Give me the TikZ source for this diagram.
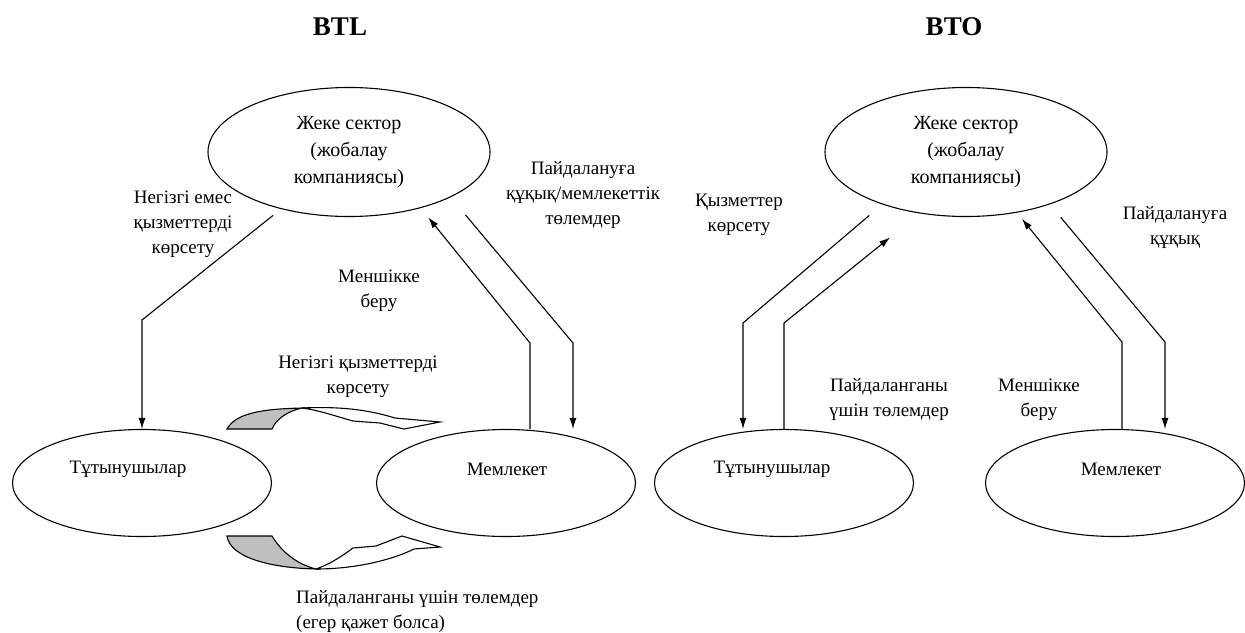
\documentclass[tikz,border=0pt]{standalone}
\usepackage{fontspec}
\setmainfont{Liberation Serif}
\usetikzlibrary{shapes.geometric,arrows.meta}

\begin{document}
\begin{tikzpicture}[x=1pt,y=-1pt,
  ent/.style={draw,ellipse,line width=1.1pt,inner sep=0pt},
  bigent/.style={ent,minimum width=282pt,minimum height=129pt,align=center,font=\fontsize{20}{27}\selectfont},
  smallent/.style={ent,minimum width=259pt,minimum height=107pt},
  lbl/.style={align=center,inner sep=0pt,font=\fontsize{19}{25}\selectfont},
  ttl/.style={inner sep=0pt,font=\fontsize{27}{30}\selectfont\bfseries},
  wire/.style={line width=1.1pt},
  conn/.style={wire,-{Latex[length=11pt,width=7pt]}}]
  \useasboundingbox (0,0) rectangle (1245,632);
  % titles
  \node[ttl] (TitleL) at (340,27) {BTL};
  \node[ttl] (TitleR) at (954,27) {BTO};
  % BTL side
  \node[bigent] (PrivL) at (349,152) {Жеке сектор\\(жобалау\\компаниясы)};
  \node[smallent] (ConsL) at (142,483) {};
  \node[smallent] (StateL) at (506,483) {};
  \node[lbl] (ConsLtxt) at ([xshift=-14pt,yshift=14pt]ConsL.center) {Тұтынушылар};
  \node[lbl] (StateLtxt) at ([xshift=1pt,yshift=14pt]StateL.center) {Мемлекет};
  \coordinate (BendA) at (142,320);
  \coordinate (BendB) at (530,343);
  \coordinate (BendC) at (573,343);
  \draw[conn,shorten <=10pt] (PrivL.-140) -- (BendA) -- (ConsL.north);
  \draw[conn,shorten >=12pt] (BendB |- StateL.north) -- (BendB) -- (PrivL.-38);
  \draw[conn,shorten <=23pt] (PrivL.-24) -- (BendC) -- (BendC |- StateL.north);
  \node[lbl] (NonCore) at (183,224) {Негізгі емес\\қызметтерді\\көрсету};
  \node[lbl] (RightL) at (583,195) {Пайдалануға\\құқық/мемлекеттік\\төлемдер};
  \node[lbl] (OwnL) at (379,291) {Меншікке\\беру};
  \node[lbl] (Core) at (358,377) {Негізгі қызметтерді\\көрсету};
  \node[lbl,align=left,anchor=west] (PayL) at (296,612) {Пайдаланганы үшін төлемдер\\(егер қажет болса)};
  % curved arrows between consumers and state
  \filldraw[wire,fill=black!25] (227,429) .. controls (236,413) and (262,409) .. (302,408)
     .. controls (288,411) and (276,419) .. (272,429) -- cycle;
  \draw[wire] (302,408) .. controls (345,406) and (372,411) .. (395,418) -- (440,422) -- (404,429)
     -- (380,423) -- (353,421) .. controls (335,416) and (318,410) .. (302,408);
  \filldraw[wire,fill=black!25] (227,536) -- (272,536) .. controls (281,551) and (296,564) .. (316,569)
     .. controls (272,568) and (230,558) .. (227,536) -- cycle;
  \draw[wire] (316,569) .. controls (355,569) and (392,560) .. (414,549) -- (440,547) -- (402,536)
     -- (376,546) -- (353,548) .. controls (341,557) and (328,565) .. (316,569);
  % BTO side
  \node[bigent] (PrivR) at (966,152) {Жеке сектор\\(жобалау\\компаниясы)};
  \node[smallent] (ConsR) at (784,483) {};
  \node[smallent] (StateR) at (1115,483) {};
  \node[lbl] (ConsRtxt) at ([xshift=-12pt,yshift=14pt]ConsR.center) {Тұтынушылар};
  \node[lbl] (StateRtxt) at ([xshift=6pt,yshift=14pt]StateR.center) {Мемлекет};
  \coordinate (BendD) at (743,323);
  \coordinate (BendE) at (784,323);
  \coordinate (BendF) at (1122,342);
  \coordinate (BendG) at (1165,342);
  \draw[conn,shorten <=17pt] (PrivR.-148) -- (BendD) -- (BendD |- ConsR.north);
  \draw[conn,shorten >=38pt] (ConsR.north) -- (BendE) -- (PrivR.-127);
  \draw[conn,shorten >=8pt] (BendF |- StateR.north) -- (BendF) -- (PrivR.-50);
  \draw[conn,shorten <=17pt] (PrivR.-32) -- (BendG) -- (BendG |- StateR.north);
  \node[lbl] (ServR) at (739,215) {Қызметтер\\көрсету};
  \node[lbl] (RightR) at (1175,228) {Пайдалануға\\құқық};
  \node[lbl] (PayR) at (889,400) {Пайдаланганы\\үшін төлемдер};
  \node[lbl] (OwnR) at (1039,400) {Меншікке\\беру};
\end{tikzpicture}
\end{document}
